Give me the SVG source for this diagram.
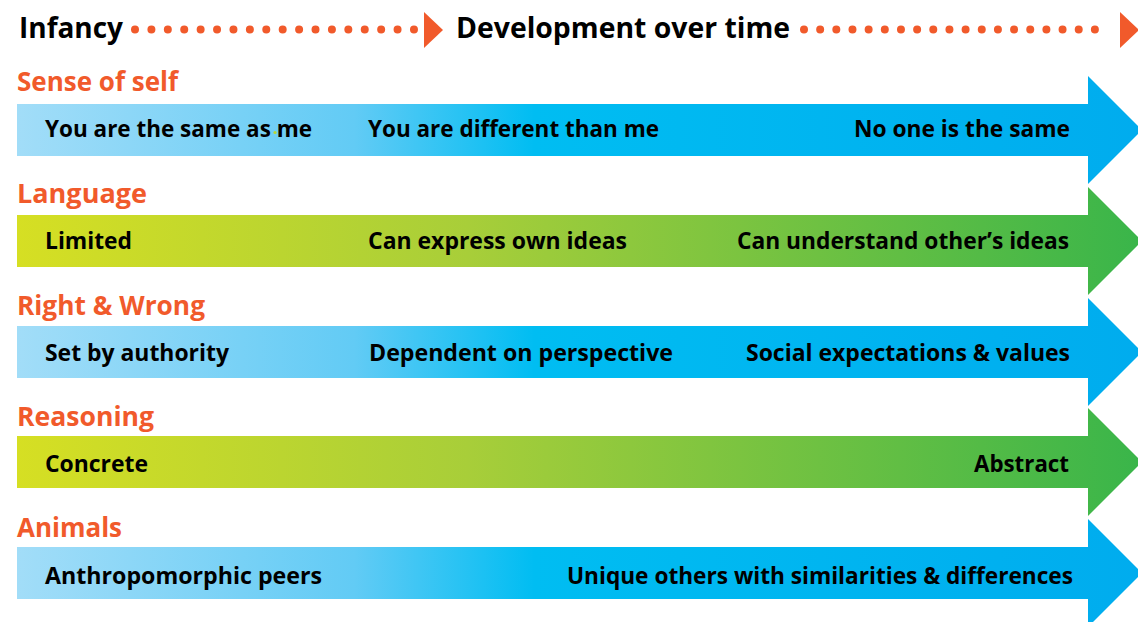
<svg xmlns="http://www.w3.org/2000/svg" width="1138" height="622" viewBox="0 0 1138 622">
<style>
.hdr{font-family:"Open Sans","Liberation Sans",sans-serif;font-weight:700;font-size:28.5px;fill:#000}
.ttl{font-family:"Open Sans","Liberation Sans",sans-serif;font-weight:700;font-size:26px;fill:#f15a2b}
.lbl{font-family:"Open Sans","Liberation Sans",sans-serif;font-weight:700;font-size:24px;fill:#000}
.dots{stroke:#f15a2b;stroke-width:8;stroke-linecap:round;fill:none}
.head{fill:#f15a2b}
</style>
<defs>
<linearGradient id="blue" gradientUnits="userSpaceOnUse" x1="17" y1="0" x2="1142" y2="0">
<stop offset="0" stop-color="#a2ddf8"/>
<stop offset="0.3" stop-color="#62cbf5"/>
<stop offset="0.46" stop-color="#00bdf2"/>
<stop offset="1" stop-color="#00acee"/>
</linearGradient>
<linearGradient id="green" gradientUnits="userSpaceOnUse" x1="17" y1="0" x2="1142" y2="0">
<stop offset="0" stop-color="#d6df23"/>
<stop offset="0.4" stop-color="#a8ce39"/>
<stop offset="1" stop-color="#39b54a"/>
</linearGradient>
</defs>

<g id="connectors">
<line class="dots" x1="135" y1="29.5" x2="414" y2="29.5" stroke-dasharray="0 16.41"/>
<polygon class="head" points="424,12 443,30 424,48"/>
<line class="dots" x1="804" y1="29.5" x2="1111" y2="29.5" stroke-dasharray="0 16.16"/>
<polygon class="head" points="1120,12 1139,30 1120,48"/>
</g>

<g id="header">
<text class="hdr" x="19" y="38" textLength="104" lengthAdjust="spacingAndGlyphs">Infancy</text>
<text class="hdr" x="456" y="38" textLength="334" lengthAdjust="spacingAndGlyphs">Development over time</text>
</g>

<g id="sense-of-self">
<text class="ttl" x="17" y="91" textLength="161" lengthAdjust="spacingAndGlyphs">Sense of self</text>
<path d="M17,104 H1088 V76 L1142,130 L1088,184 V156 H17 Z" fill="url(#blue)"/>
<text class="lbl" x="45" y="137" textLength="267" lengthAdjust="spacingAndGlyphs">You are the same as me</text>
<circle cx="275" cy="132.5" r="1.6" fill="#b9d532"/>
<text class="lbl" x="368" y="137" textLength="291" lengthAdjust="spacingAndGlyphs">You are different than me</text>
<text class="lbl" x="854" y="137" textLength="216" lengthAdjust="spacingAndGlyphs">No one is the same</text>
</g>

<g id="language">
<text class="ttl" x="17" y="203" textLength="130" lengthAdjust="spacingAndGlyphs">Language</text>
<path d="M17,215 H1088 V187 L1142,241 L1088,295 V267 H17 Z" fill="url(#green)"/>
<text class="lbl" x="45" y="249" textLength="87" lengthAdjust="spacingAndGlyphs">Limited</text>
<text class="lbl" x="368" y="249" textLength="259" lengthAdjust="spacingAndGlyphs">Can express own ideas</text>
<text class="lbl" x="737" y="249" textLength="332" lengthAdjust="spacingAndGlyphs">Can understand other’s ideas</text>
</g>

<g id="right-wrong">
<text class="ttl" x="17" y="315" textLength="188" lengthAdjust="spacingAndGlyphs">Right &amp; Wrong</text>
<path d="M17,326 H1088 V298 L1142,352 L1088,406 V378 H17 Z" fill="url(#blue)"/>
<text class="lbl" x="45" y="361" textLength="184" lengthAdjust="spacingAndGlyphs">Set by authority</text>
<text class="lbl" x="369" y="361" textLength="304" lengthAdjust="spacingAndGlyphs">Dependent on perspective</text>
<text class="lbl" x="746" y="361" textLength="324" lengthAdjust="spacingAndGlyphs">Social expectations &amp; values</text>
</g>

<g id="reasoning">
<text class="ttl" x="17" y="426" textLength="137" lengthAdjust="spacingAndGlyphs">Reasoning</text>
<path d="M17,436 H1088 V408 L1142,462 L1088,516 V488 H17 Z" fill="url(#green)"/>
<text class="lbl" x="45" y="472" textLength="103" lengthAdjust="spacingAndGlyphs">Concrete</text>
<text class="lbl" x="974" y="472" textLength="95" lengthAdjust="spacingAndGlyphs">Abstract</text>
</g>

<g id="animals">
<text class="ttl" x="17" y="537" textLength="105" lengthAdjust="spacingAndGlyphs">Animals</text>
<path d="M17,547 H1088 V519 L1142,573 L1088,627 V599 H17 Z" fill="url(#blue)"/>
<text class="lbl" x="45" y="584" textLength="277" lengthAdjust="spacingAndGlyphs">Anthropomorphic peers</text>
<text class="lbl" x="567" y="584" textLength="506" lengthAdjust="spacingAndGlyphs">Unique others with similarities &amp; differences</text>
</g>
</svg>
